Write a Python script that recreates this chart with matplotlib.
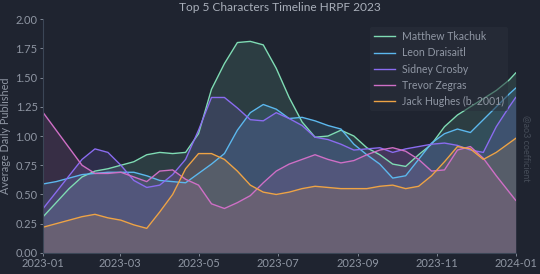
import matplotlib
matplotlib.use('Agg')
import matplotlib.pyplot as plt
import matplotlib.dates as mdates
import pandas as pd

plt.rcParams['font.family'] = ['Lato', 'DejaVu Sans']

# sample dates, every 10 days + new year
dates = list(pd.date_range('2023-01-01', periods=37, freq='10D')) + [pd.Timestamp('2024-01-01')]

tkachuk = [0.31, 0.43, 0.55, 0.65, 0.70, 0.72, 0.75, 0.78, 0.84, 0.86, 0.85, 0.86, 1.02,
           1.40, 1.62, 1.80, 1.81, 1.78, 1.58, 1.33, 1.12, 0.99, 1.00, 1.05, 1.00, 0.90,
           0.84, 0.76, 0.74, 0.84, 0.93, 1.08, 1.18, 1.25, 1.32, 1.39, 1.48, 1.54]
draisaitl = [0.59, 0.61, 0.64, 0.67, 0.68, 0.69, 0.69, 0.69, 0.66, 0.62, 0.61, 0.60, 0.68,
             0.76, 0.85, 1.05, 1.20, 1.27, 1.23, 1.15, 1.16, 1.13, 1.09, 1.06, 0.93, 0.84,
             0.76, 0.64, 0.66, 0.80, 0.94, 1.02, 1.06, 1.03, 1.14, 1.25, 1.36, 1.41]
crosby = [0.38, 0.52, 0.66, 0.80, 0.89, 0.86, 0.75, 0.62, 0.56, 0.58, 0.67, 0.80, 1.05,
          1.33, 1.33, 1.24, 1.14, 1.13, 1.20, 1.15, 1.09, 0.99, 0.97, 0.93, 0.88, 0.89,
          0.90, 0.86, 0.89, 0.91, 0.93, 0.94, 0.92, 0.88, 0.86, 1.08, 1.25, 1.33]
zegras = [1.20, 1.05, 0.90, 0.75, 0.68, 0.68, 0.69, 0.65, 0.61, 0.70, 0.71, 0.63, 0.58,
          0.42, 0.38, 0.43, 0.49, 0.60, 0.70, 0.76, 0.80, 0.84, 0.80, 0.77, 0.79, 0.84,
          0.88, 0.90, 0.87, 0.80, 0.70, 0.71, 0.88, 0.91, 0.81, 0.66, 0.52, 0.45]
hughes = [0.22, 0.25, 0.28, 0.31, 0.33, 0.30, 0.28, 0.24, 0.21, 0.35, 0.50, 0.72, 0.85,
          0.85, 0.80, 0.70, 0.58, 0.52, 0.50, 0.52, 0.55, 0.57, 0.56, 0.55, 0.55, 0.55,
          0.57, 0.58, 0.55, 0.57, 0.66, 0.78, 0.91, 0.89, 0.80, 0.86, 0.94, 0.98]

names = ['Matthew Tkachuk', 'Leon Draisaitl', 'Sidney Crosby', 'Trevor Zegras', 'Jack Hughes (b. 2001)']
colors = ['#7fdcb4', '#5cb8ee', '#8a6cf0', '#cf6fc6', '#eea345']
series = [tkachuk, draisaitl, crosby, zegras, hughes]

bg = '#1f2430'
fig, ax = plt.subplots(figsize=(5.4, 2.74), dpi=100)
fig.patch.set_facecolor(bg)
ax.set_facecolor(bg)

for name, col, vals in zip(names, colors, series):
    ax.fill_between(dates, vals, 0, color=col, alpha=0.14, linewidth=0)
    ax.plot(dates, vals, color=col, linewidth=1.0, label=name)

ax.set_xlim(pd.Timestamp('2023-01-01'), pd.Timestamp('2024-01-01'))
ax.set_ylim(0, 2)
ax.set_yticks([0, 0.25, 0.5, 0.75, 1.0, 1.25, 1.5, 1.75, 2.0])
ax.xaxis.set_major_locator(mdates.MonthLocator(bymonth=[1, 3, 5, 7, 9, 11]))
ax.xaxis.set_major_formatter(mdates.DateFormatter('%Y-%m'))

txt = '#8f96a3'
ax.tick_params(colors=txt, labelsize=8, length=2.5, width=0.6, pad=1.5)
for s in ['top', 'right']:
    ax.spines[s].set_visible(False)
for s in ['left', 'bottom']:
    ax.spines[s].set_color('#3b4656')
    ax.spines[s].set_linewidth(0.8)

ax.set_title('Top 5 Characters Timeline HRPF 2023', color='#a9afba', fontsize=8.6, pad=6)
ax.set_ylabel('Average Daily Published', color='#8f96a3', fontsize=7.8, labelpad=3)

leg = ax.legend(loc='upper right', fontsize=7.6, frameon=True, handlelength=2.0,
                labelspacing=0.5, borderpad=0.4, handletextpad=0.6,
                bbox_to_anchor=(0.995, 0.99))
leg.get_frame().set_facecolor('#2a303b')
leg.get_frame().set_alpha(0.55)
leg.get_frame().set_linewidth(0)
for t in leg.get_texts():
    t.set_color('#8f96a3')

fig.text(0.975, 0.46, '@ao3 coefficient', rotation=270, color='#454c58', fontsize=6.5,
         ha='center', va='center')

plt.subplots_adjust(left=0.08, right=0.955, top=0.93, bottom=0.077)
plt.savefig('out.png', dpi=100, facecolor=bg)
